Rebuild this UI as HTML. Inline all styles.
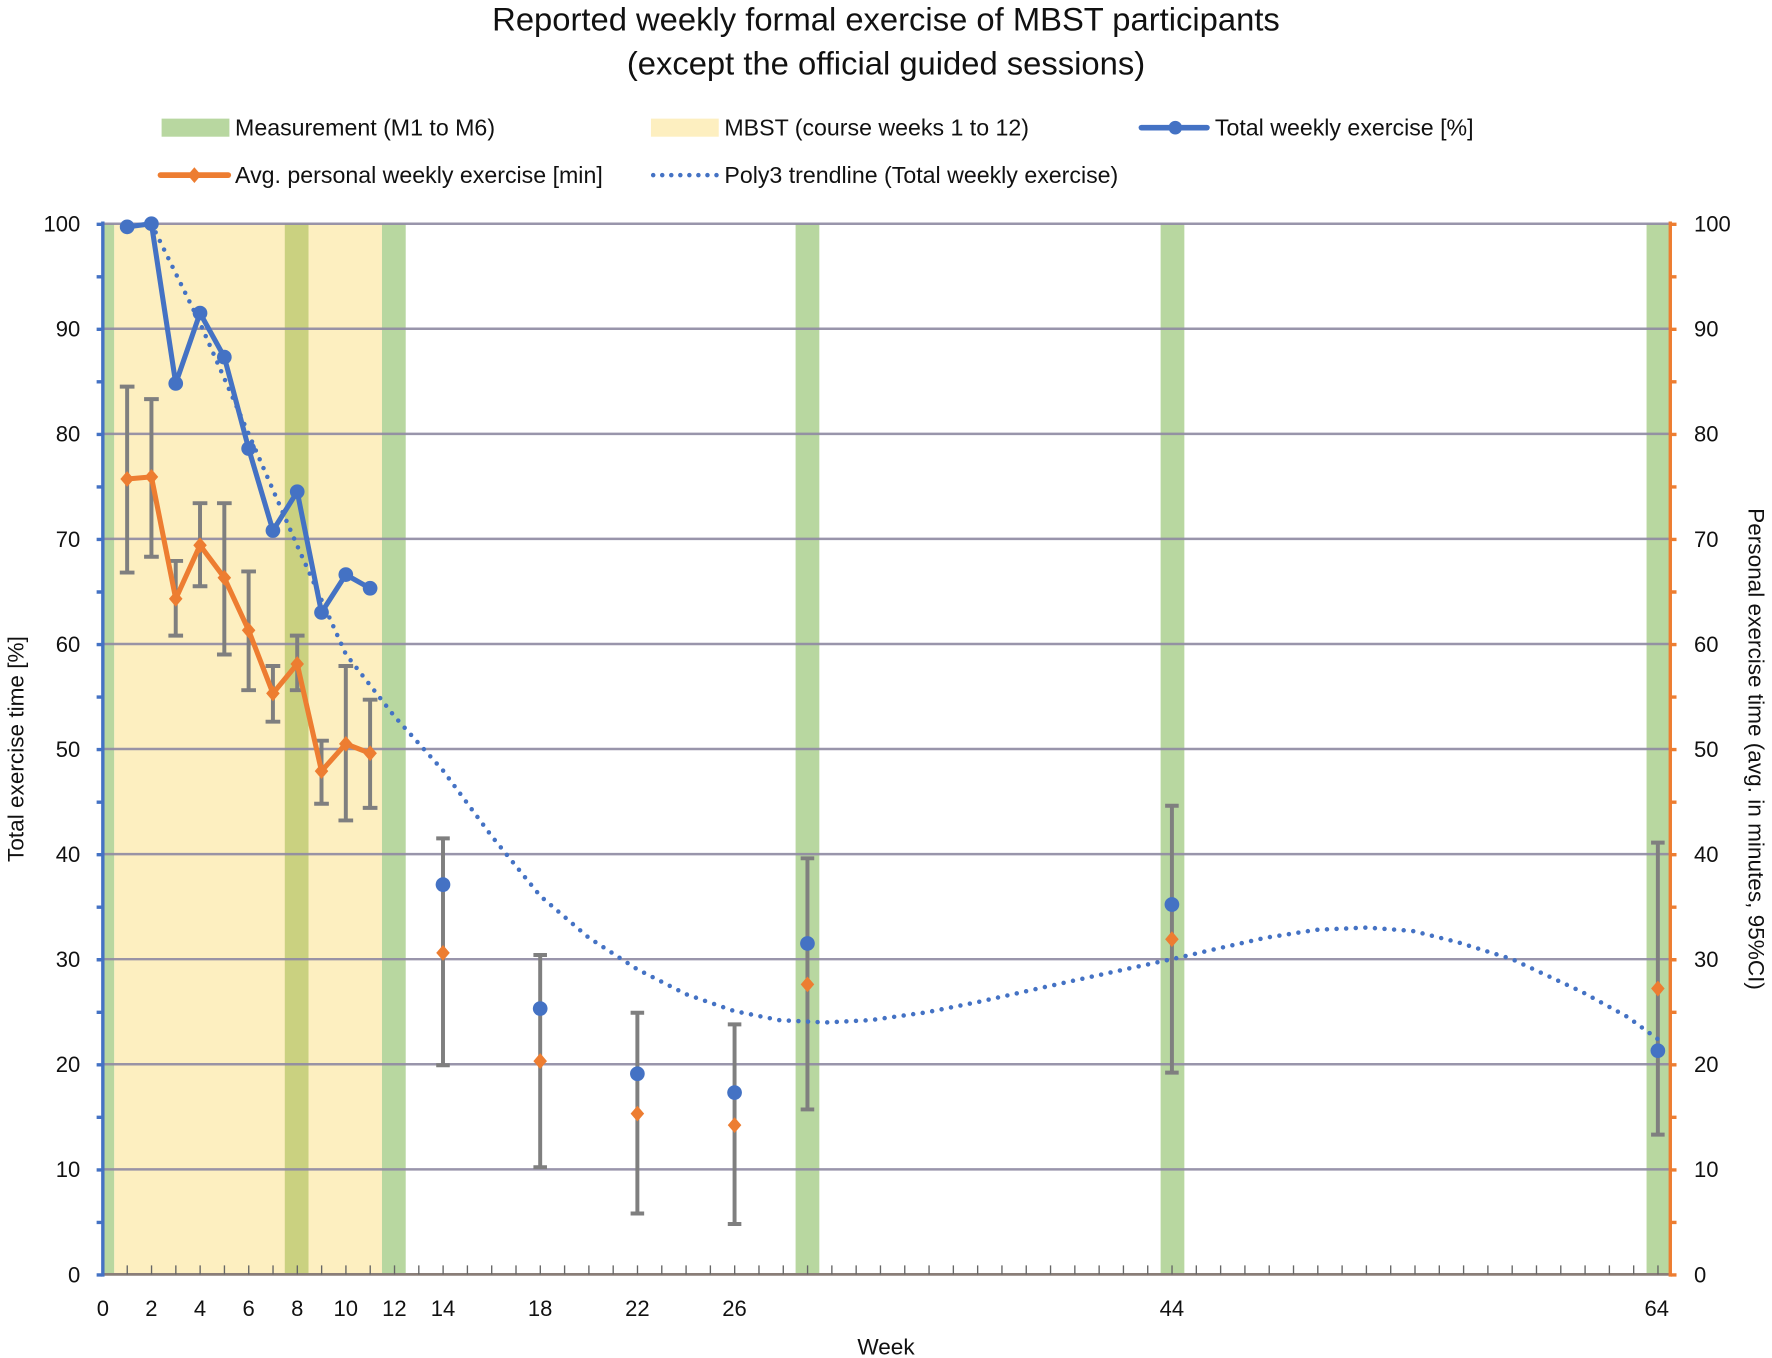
<!DOCTYPE html>
<html><head><meta charset="utf-8"><style>
html,body{margin:0;padding:0;background:#fff;}
svg{display:block;}
text{font-family:"Liberation Sans",sans-serif;fill:#111;}
</style></head><body>
<svg width="1772" height="1358" viewBox="0 0 1568 1202" preserveAspectRatio="none">
<rect width="1568" height="1202" fill="#fff"/>
<text x="784" y="27" font-size="29" text-anchor="middle">Reported weekly formal exercise of MBST participants</text>
<text x="784" y="66" font-size="29" text-anchor="middle">(except the official guided sessions)</text>
<!-- legend -->
<rect x="143" y="105" width="60" height="16" fill="#b8d7a0"/>
<text x="208" y="120" font-size="20.5">Measurement (M1 to M6)</text>
<rect x="576" y="105" width="60" height="16" fill="#fdefc0"/>
<text x="641" y="120" font-size="20.5">MBST (course weeks 1 to 12)</text>
<line x1="1010" y1="113" x2="1068" y2="113" stroke="#4472c4" stroke-width="5" stroke-linecap="round"/>
<circle cx="1040" cy="113" r="6" fill="#4472c4"/>
<text x="1075" y="120" font-size="20.5">Total weekly exercise [%]</text>
<line x1="142" y1="155" x2="202" y2="155" stroke="#ed7d31" stroke-width="5" stroke-linecap="round"/>
<path d="M172 148 L178 155 L172 162 L166 155Z" fill="#ed7d31"/>
<text x="208" y="162" font-size="20.5">Avg. personal weekly exercise [min]</text>
<line x1="578" y1="155" x2="636" y2="155" stroke="#4472c4" stroke-width="4" stroke-dasharray="0 8" stroke-linecap="round"/>
<text x="641" y="162" font-size="20.5">Poly3 trendline (Total weekly exercise)</text>
<!-- bands -->
<rect x="101" y="198" width="237" height="930" fill="#fdefc0"/>
<rect x="91" y="198" width="10" height="930" fill="#b8d7a0"/>
<rect x="252" y="198" width="21" height="930" fill="#cad180"/>
<rect x="338" y="198" width="21" height="930" fill="#b8d7a0"/>
<rect x="704" y="198" width="21" height="930" fill="#b8d7a0"/>
<rect x="1027" y="198" width="21" height="930" fill="#b8d7a0"/>
<rect x="1457" y="198" width="21" height="930" fill="#b8d7a0"/>
<!-- grid -->
<g stroke="#8f8aa3" stroke-width="2.2" opacity="0.9">
<line x1="91" x2="1478" y1="198" y2="198"/><line x1="91" x2="1478" y1="291" y2="291"/>
<line x1="91" x2="1478" y1="384" y2="384"/><line x1="91" x2="1478" y1="477" y2="477"/>
<line x1="91" x2="1478" y1="570" y2="570"/><line x1="91" x2="1478" y1="663" y2="663"/>
<line x1="91" x2="1478" y1="756" y2="756"/><line x1="91" x2="1478" y1="849" y2="849"/>
<line x1="91" x2="1478" y1="942" y2="942"/><line x1="91" x2="1478" y1="1035" y2="1035"/>
</g>
<line x1="91" x2="1478" y1="1128" y2="1128" stroke="#8a7e78" stroke-width="2.5"/>
<line x1="90.5" x2="1478" y1="1124" y2="1124" stroke="#666" stroke-width="8" stroke-dasharray="1.2 20.3"/>
<!-- axes -->
<line x1="91" x2="91" y1="196" y2="1130" stroke="#4472c4" stroke-width="3"/>
<line x1="88" x2="88" y1="197" y2="1130" stroke="#4472c4" stroke-width="5" stroke-dasharray="3 43.5"/>
<line x1="1478" x2="1478" y1="196" y2="1130" stroke="#ed7d31" stroke-width="3"/>
<line x1="1481" x2="1481" y1="197" y2="1130" stroke="#ed7d31" stroke-width="5" stroke-dasharray="3 43.5"/>
<!-- y labels -->
<g font-size="19.5" text-anchor="end">
<text x="71" y="205">100</text><text x="71" y="298">90</text><text x="71" y="391">80</text><text x="71" y="484">70</text><text x="71" y="577">60</text><text x="71" y="670">50</text><text x="71" y="763">40</text><text x="71" y="856">30</text><text x="71" y="949">20</text><text x="71" y="1042">10</text><text x="71" y="1135">0</text>
</g>
<g font-size="19.5">
<text x="1499" y="205">100</text><text x="1499" y="298">90</text><text x="1499" y="391">80</text><text x="1499" y="484">70</text><text x="1499" y="577">60</text><text x="1499" y="670">50</text><text x="1499" y="763">40</text><text x="1499" y="856">30</text><text x="1499" y="949">20</text><text x="1499" y="1042">10</text><text x="1499" y="1135">0</text>
</g>
<g font-size="19.5" text-anchor="middle">
<text x="91" y="1165">0</text><text x="134" y="1165">2</text><text x="177" y="1165">4</text><text x="220" y="1165">6</text><text x="263" y="1165">8</text><text x="306" y="1165">10</text><text x="349" y="1165">12</text><text x="392" y="1165">14</text><text x="478" y="1165">18</text><text x="564" y="1165">22</text><text x="650" y="1165">26</text><text x="1037" y="1165">44</text><text x="1466" y="1165">64</text>
<text x="784" y="1199" font-size="20">Week</text>
</g>
<text transform="translate(21,663) rotate(-90)" font-size="20" text-anchor="middle">Total exercise time [%]</text>
<text transform="translate(1547,663) rotate(90)" font-size="20" text-anchor="middle">Personal exercise time (avg. in minutes, 95%CI)</text>
<!-- error bars -->
<g stroke="#7f7f7f" stroke-width="3.5">
<path d="M112.5 342.2V506.8M134 353.3V492.8M155.5 496.5V562.6M177 445.4V518.9M198.5 445.4V579.3M220 505.8V610.9M241.5 589.5V638.8M263 562.6V610.9M284.5 655.6V711.4M306 589.5V726.2M327.5 619.3V715.1M392 742.1V942.9M478 845.3V1033.1M564 896.4V1074.1M650 906.7V1083.4M714.5 759.7V982M1037 713.2V949.4M1467 745.8V1004.3"/>
<path d="M106 342.2h13M106 506.8h13M127.5 353.3h13M127.5 492.8h13M149 496.5h13M149 562.6h13M170.5 445.4h13M170.5 518.9h13M192 445.4h13M192 579.3h13M213.5 505.8h13M213.5 610.9h13M235 589.5h13M235 638.8h13M256.5 562.6h13M256.5 610.9h13M278 655.6h13M278 711.4h13M299.5 589.5h13M299.5 726.2h13M321 619.3h13M321 715.1h13M386 742.1h12M386 942.9h12M472 845.3h12M472 1033.1h12M558 896.4h12M558 1074.1h12M644 906.7h12M644 1083.4h12M708.5 759.7h12M708.5 982h12M1031 713.2h12M1031 949.4h12M1461 745.8h12M1461 1004.3h12"/>
</g>
<!-- orange series -->
<polyline fill="none" stroke="#ed7d31" stroke-width="4.5" stroke-linejoin="round" points="112.5,424 134,422.1 155.5,530 177,482.6 198.5,511.4 220,557.9 241.5,613.7 263,587.7 284.5,682.5 306,658.4 327.5,666.7"/>
<g fill="#ed7d31">
<path d="M112.5 417l6 7-6 7-6-7z"/><path d="M134 415.1l6 7-6 7-6-7z"/><path d="M155.5 523l6 7-6 7-6-7z"/><path d="M177 475.6l6 7-6 7-6-7z"/><path d="M198.5 504.4l6 7-6 7-6-7z"/><path d="M220 550.9l6 7-6 7-6-7z"/><path d="M241.5 606.7l6 7-6 7-6-7z"/><path d="M263 580.7l6 7-6 7-6-7z"/><path d="M284.5 675.5l6 7-6 7-6-7z"/><path d="M306 651.4l6 7-6 7-6-7z"/><path d="M327.5 659.7l6 7-6 7-6-7z"/>
<path d="M392 836.4l6 7-6 7-6-7z"/><path d="M478 932.2l6 7-6 7-6-7z"/><path d="M564 978.7l6 7-6 7-6-7z"/><path d="M650 988.9l6 7-6 7-6-7z"/><path d="M714.5 864.3l6 7-6 7-6-7z"/><path d="M1037 824.3l6 7-6 7-6-7z"/><path d="M1467 868l6 7-6 7-6-7z"/>
</g>
<!-- trendline -->
<polyline fill="none" stroke="#4472c4" stroke-width="4" stroke-dasharray="0 8.5" stroke-linecap="round" stroke-linejoin="round" points="134,198 177,286 220,384 263,483 306,579 349,634 392,682 435,740 478,793 521,830 564,858 607,880 650,895 690,903 730,905 770,903 820,896 865,887 950,868 1000,857 1037,849 1080,839 1120,830 1165,823 1209,821 1250,824 1290,834 1338,849 1400,878 1440,900 1470,922"/>
<!-- blue series -->
<polyline fill="none" stroke="#4472c4" stroke-width="4.5" stroke-linejoin="round" points="112.5,200.8 134,198 155.5,339.4 177,277.1 198.5,316.1 220,397 241.5,469.6 263,435.2 284.5,542.1 306,508.6 327.5,520.7"/>
<g fill="#4472c4">
<circle cx="112.5" cy="200.8" r="6.5"/><circle cx="134" cy="198" r="6.5"/><circle cx="155.5" cy="339.4" r="6.5"/><circle cx="177" cy="277.1" r="6.5"/><circle cx="198.5" cy="316.1" r="6.5"/><circle cx="220" cy="397" r="6.5"/><circle cx="241.5" cy="469.6" r="6.5"/><circle cx="263" cy="435.2" r="6.5"/><circle cx="284.5" cy="542.1" r="6.5"/><circle cx="306" cy="508.6" r="6.5"/><circle cx="327.5" cy="520.7" r="6.5"/>
<circle cx="392" cy="783" r="6.5"/><circle cx="478" cy="892.7" r="6.5"/><circle cx="564" cy="950.4" r="6.5"/><circle cx="650" cy="967.1" r="6.5"/><circle cx="714.5" cy="835.1" r="6.5"/><circle cx="1037" cy="800.6" r="6.5"/><circle cx="1467" cy="930" r="6.5"/>
</g>
</svg>
</body></html>
